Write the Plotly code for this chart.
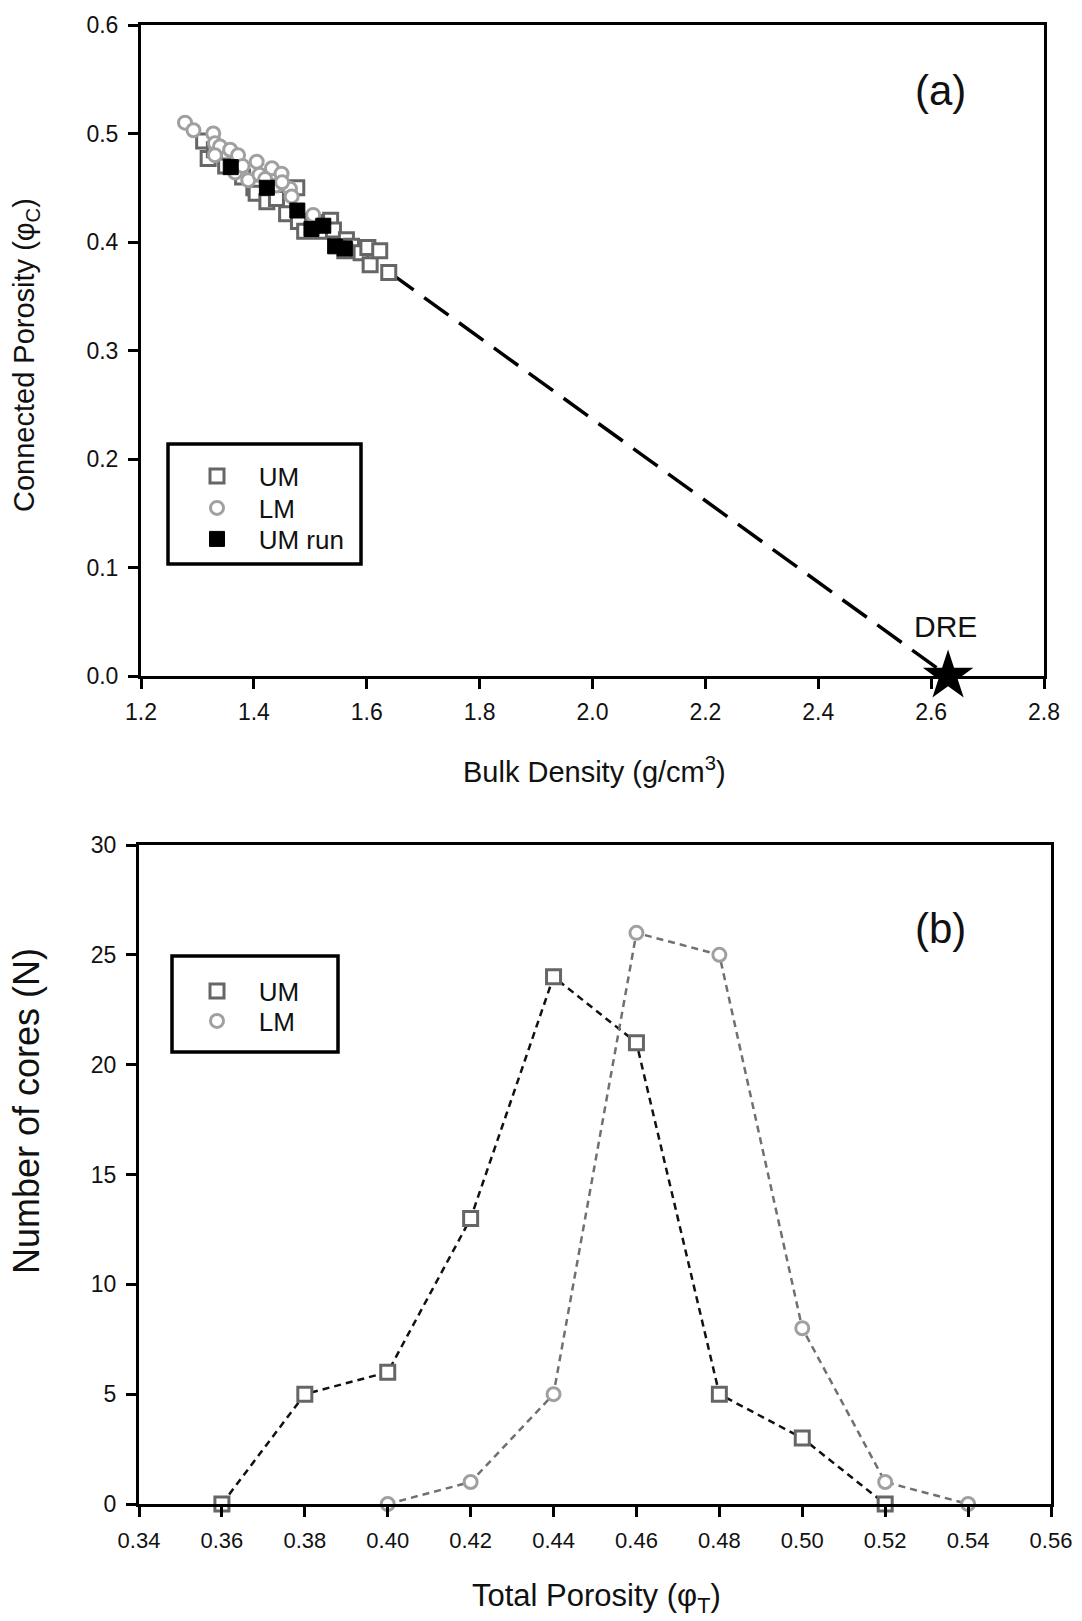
import plotly.graph_objects as go

# ---------------- data ----------------
# Panel (a): connected porosity vs bulk density
um_x = [1.311, 1.319, 1.33, 1.35, 1.38, 1.40, 1.404, 1.423, 1.44, 1.458, 1.479, 1.476,
        1.49, 1.508, 1.52, 1.536, 1.541, 1.564, 1.573, 1.561, 1.59, 1.602, 1.606, 1.623, 1.639]
um_y = [0.493, 0.477, 0.485, 0.470, 0.460, 0.450, 0.445, 0.437, 0.440, 0.426, 0.419, 0.450,
        0.410, 0.418, 0.410, 0.420, 0.411, 0.402, 0.396, 0.392, 0.390, 0.395, 0.379, 0.392, 0.372]

lm_x = [1.278, 1.293, 1.328, 1.331, 1.340, 1.358, 1.331, 1.372, 1.367, 1.390, 1.405, 1.410,
        1.432, 1.449, 1.440, 1.464, 1.467, 1.450, 1.505, 1.420, 1.380]
lm_y = [0.510, 0.503, 0.500, 0.491, 0.488, 0.485, 0.480, 0.480, 0.464, 0.457, 0.474, 0.462,
        0.468, 0.463, 0.452, 0.449, 0.442, 0.455, 0.425, 0.458, 0.470]

run_x = [1.359, 1.423, 1.477, 1.502, 1.523, 1.544, 1.561]
run_y = [0.469, 0.450, 0.429, 0.412, 0.415, 0.396, 0.394]

dre_line_x = [1.64, 2.63]
dre_line_y = [0.372, 0.0]
dre_x = [2.63]
dre_y = [0.0]

# Panel (b): number of cores vs total porosity
hist_um_x = [0.36, 0.38, 0.40, 0.42, 0.44, 0.46, 0.48, 0.50, 0.52]
hist_um_y = [0, 5, 6, 13, 24, 21, 5, 3, 0]
hist_lm_x = [0.40, 0.42, 0.44, 0.46, 0.48, 0.50, 0.52, 0.54]
hist_lm_y = [0, 1, 5, 26, 25, 8, 1, 0]

a_xticks = [1.2, 1.4, 1.6, 1.8, 2.0, 2.2, 2.4, 2.6, 2.8]
a_yticks = [0.0, 0.1, 0.2, 0.3, 0.4, 0.5, 0.6]
b_xticks = [0.34, 0.36, 0.38, 0.40, 0.42, 0.44, 0.46, 0.48, 0.50, 0.52, 0.54, 0.56]
b_yticks = [0, 5, 10, 15, 20, 25, 30]

# ---------------- layout helpers (pixel -> paper) ----------------
W, H = 1082, 1621
L, R, T, B = 139, 1051, 25, 1504
PW, PH = R - L, B - T


def pxx(px):
    return (px - L) / PW


def pyy(py):
    return (B - py) / PH


FONT = "Liberation Sans, Arial, sans-serif"
TXT = "#111111"
UM_C = "#666666"
LM_C = "#a0a0a0"
SP = "\u00a0\u00a0\u00a0"

fig = go.Figure()

# ----- panel (a) -----
fig.add_trace(go.Scatter(x=dre_line_x, y=dre_line_y, mode="lines", showlegend=False,
                         line=dict(color="black", width=3.5, dash="30px,13px"),
                         xaxis="x", yaxis="y", hoverinfo="skip"))
fig.add_trace(go.Scatter(x=um_x, y=um_y, mode="markers", name=SP + "UM", legend="legend",
                         marker=dict(symbol="square", size=14, color="white",
                                     line=dict(color=UM_C, width=3)),
                         xaxis="x", yaxis="y"))
fig.add_trace(go.Scatter(x=lm_x, y=lm_y, mode="markers", name=SP + "LM", legend="legend2",
                         marker=dict(symbol="circle", size=13, color="white",
                                     line=dict(color=LM_C, width=3)),
                         xaxis="x", yaxis="y"))
fig.add_trace(go.Scatter(x=run_x, y=run_y, mode="markers", name=SP + "UM run",
                         legend="legend3",
                         marker=dict(symbol="square", size=15, color="black",
                                     line=dict(color="black", width=1)),
                         xaxis="x", yaxis="y"))
fig.add_trace(go.Scatter(x=dre_x, y=dre_y, mode="markers", showlegend=False,
                         marker=dict(symbol="star", size=38, color="black",
                                     line=dict(color="black", width=0)),
                         xaxis="x", yaxis="y", cliponaxis=False))

# ----- panel (b) -----
fig.add_trace(go.Scatter(x=hist_um_x, y=hist_um_y, mode="lines", showlegend=False,
                         line=dict(color="#111111", width=2.5, dash="7px,5px"),
                         xaxis="x2", yaxis="y2", hoverinfo="skip"))
fig.add_trace(go.Scatter(x=hist_lm_x, y=hist_lm_y, mode="lines", showlegend=False,
                         line=dict(color="#707070", width=2.5, dash="7px,5px"),
                         xaxis="x2", yaxis="y2", hoverinfo="skip"))
fig.add_trace(go.Scatter(x=hist_um_x, y=hist_um_y, mode="markers", name=SP + "UM",
                         legend="legend4",
                         marker=dict(symbol="square", size=14, color="white",
                                     line=dict(color=UM_C, width=3)),
                         xaxis="x2", yaxis="y2", cliponaxis=False))
fig.add_trace(go.Scatter(x=hist_lm_x, y=hist_lm_y, mode="markers", name=SP + "LM",
                         legend="legend5",
                         marker=dict(symbol="circle", size=13, color="white",
                                     line=dict(color=LM_C, width=3)),
                         xaxis="x2", yaxis="y2", cliponaxis=False))

axis_common = dict(showgrid=False, zeroline=False, showline=True, linecolor="black",
                   linewidth=3, mirror=True, ticks="outside", ticklen=10, tickwidth=3,
                   tickcolor="black", automargin=False)
a_tickfont = dict(family=FONT, size=23, color=TXT)
bx_tickfont = dict(family=FONT, size=22, color=TXT)
by_tickfont = dict(family=FONT, size=23, color=TXT)


def one_legend(px, py):
    return dict(x=pxx(px - 20), y=pyy(py), xanchor="left", yanchor="middle",
                bgcolor="rgba(0,0,0,0)", borderwidth=0,
                font=dict(family=FONT, size=26, color=TXT))


fig.update_layout(
    width=W, height=H,
    margin=dict(l=L, r=W - R, t=T, b=H - B, autoexpand=False),
    paper_bgcolor="white", plot_bgcolor="white",
    font=dict(family=FONT, color=TXT),
    xaxis=dict(domain=[pxx(141), pxx(1044)], range=[1.2, 2.8], tickvals=a_xticks,
               ticktext=[f"{v:.1f}" for v in a_xticks], anchor="y",
               tickfont=a_tickfont, ticklabelstandoff=3, **axis_common),
    yaxis=dict(domain=[pyy(676), 1], range=[0, 0.6], tickvals=a_yticks,
               ticktext=[f"{v:.1f}" for v in a_yticks], anchor="x",
               tickfont=a_tickfont, ticklabelstandoff=5, **axis_common),
    xaxis2=dict(domain=[0, 1], range=[0.34, 0.56], tickvals=b_xticks,
                ticktext=[f"{v:.2f}" for v in b_xticks], anchor="y2",
                tickfont=bx_tickfont, ticklabelstandoff=5, **axis_common),
    yaxis2=dict(domain=[0, pyy(845)], range=[0, 30], tickvals=b_yticks, anchor="x2",
                tickfont=by_tickfont, ticklabelstandoff=5, **axis_common),
    legend=one_legend(217, 476),
    legend2=one_legend(217, 508),
    legend3=one_legend(217, 539),
    legend4=one_legend(217, 991),
    legend5=one_legend(217, 1021),
    shapes=[
        dict(type="rect", xref="paper", yref="paper", x0=pxx(168), x1=pxx(361),
             y0=pyy(564), y1=pyy(444), line=dict(color="black", width=3.5)),
        dict(type="rect", xref="paper", yref="paper", x0=pxx(172), x1=pxx(338),
             y0=pyy(1052), y1=pyy(956), line=dict(color="black", width=3.5)),
    ],
    annotations=[
        dict(text="(a)", xref="paper", yref="paper", x=pxx(940), y=pyy(91),
             xanchor="center", yanchor="middle", showarrow=False,
             font=dict(family=FONT, size=42, color=TXT)),
        dict(text="(b)", xref="paper", yref="paper", x=pxx(940), y=pyy(928),
             xanchor="center", yanchor="middle", showarrow=False,
             font=dict(family=FONT, size=42, color=TXT)),
        dict(text="DRE", xref="paper", yref="paper", x=pxx(945), y=pyy(626),
             xanchor="center", yanchor="middle", showarrow=False,
             font=dict(family=FONT, size=30, color=TXT)),
        dict(text="Bulk Density (g/cm<sup>3</sup>)", xref="paper", yref="paper",
             x=pxx(594), y=pyy(770), xanchor="center", yanchor="middle",
             showarrow=False, font=dict(family=FONT, size=29, color=TXT)),
        dict(text="Connected Porosity (\u03c6<sub>C</sub>)", xref="paper", yref="paper",
             x=pxx(26), y=pyy(355), xanchor="center", yanchor="middle", textangle=-90,
             showarrow=False, font=dict(family=FONT, size=29, color=TXT)),
        dict(text="Total Porosity (\u03c6<sub>T</sub>)", xref="paper", yref="paper",
             x=pxx(596), y=pyy(1598), xanchor="center", yanchor="middle",
             showarrow=False, font=dict(family=FONT, size=31, color=TXT)),
        dict(text="Number of cores (N)", xref="paper", yref="paper",
             x=pxx(26), y=pyy(1111), xanchor="center", yanchor="middle", textangle=-90,
             showarrow=False, font=dict(family=FONT, size=36, color=TXT)),
    ],
)

fig.write_html("out.html")
